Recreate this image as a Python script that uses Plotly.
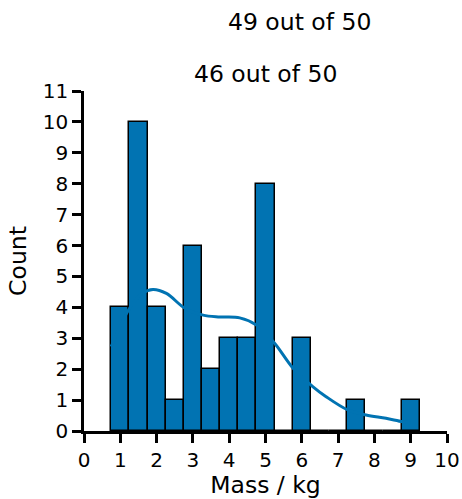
import plotly.graph_objects as go

# Histogram bins (centers, width 0.5) and counts
bin_centers = [1.0, 1.5, 2.0, 2.5, 3.0, 3.5, 4.0, 4.5, 5.0, 5.5, 6.0, 6.5, 7.0, 7.5, 8.0, 8.5, 9.0]
counts = [4, 10, 4, 1, 6, 2, 3, 3, 8, 0, 3, 0, 0, 1, 0, 0, 1]
bin_width = 0.5

# KDE curve
kde_x = [0.75, 1.26, 1.6, 1.9, 2.27, 2.78, 3.28, 3.74, 4.29, 4.75, 5.25, 5.76, 6.31, 6.67, 7.27, 7.77, 8.32, 8.78, 9.0]
kde_y = [2.73, 3.98, 4.45, 4.58, 4.45, 3.97, 3.75, 3.69, 3.66, 3.43, 2.84, 2.03, 1.43, 1.11, 0.68, 0.52, 0.41, 0.30, 0.27]

x_ticks = list(range(0, 11))
y_ticks = list(range(0, 12))

title_main = "46 out of 50"
title_other = "49 out of 50"

BLUE = "#0173b2"
FONT = "DejaVu Sans"

fig = go.Figure()
fig.add_trace(go.Scatter(x=kde_x, y=kde_y, mode="lines", line=dict(color=BLUE, width=3, shape="spline"),
                         showlegend=False, hoverinfo="skip"))
fig.add_trace(go.Bar(x=bin_centers, y=counts, width=bin_width,
                     marker=dict(color=BLUE, line=dict(color="black", width=1.5)),
                     showlegend=False))

axis_common = dict(showgrid=False, zeroline=False, showline=True, linecolor="black", linewidth=2.5,
                   ticks="outside", ticklen=9, tickwidth=2.5, tickcolor="black", automargin=False,
                   tickfont=dict(family=FONT, size=20, color="black"))

fig.update_layout(
    width=462, height=499,
    margin=dict(l=84, r=15, t=91, b=68),
    plot_bgcolor="white", paper_bgcolor="white",
    bargap=0,
    font=dict(family=FONT, color="black"),
    xaxis=dict(range=[0, 10], tickvals=x_ticks, ticktext=[str(v) for v in x_ticks],
               title=dict(text="Mass / kg", font=dict(family=FONT, size=23.5), standoff=6), **axis_common),
    yaxis=dict(range=[0, 11], tickvals=y_ticks, ticktext=[str(v) for v in y_ticks],
               title=dict(text="Count", font=dict(family=FONT, size=23.5), standoff=10), **axis_common),
    annotations=[
        dict(text=title_main, xref="paper", yref="paper", x=0.5, y=1.0, yshift=17,
             xanchor="center", yanchor="middle", showarrow=False,
             font=dict(family=FONT, size=23.5, color="black")),
        dict(text=title_other, xref="paper", yref="paper", x=0.594, y=1.0, yshift=69,
             xanchor="center", yanchor="middle", showarrow=False,
             font=dict(family=FONT, size=23.5, color="black")),
    ],
)

fig.write_html("out.html")
